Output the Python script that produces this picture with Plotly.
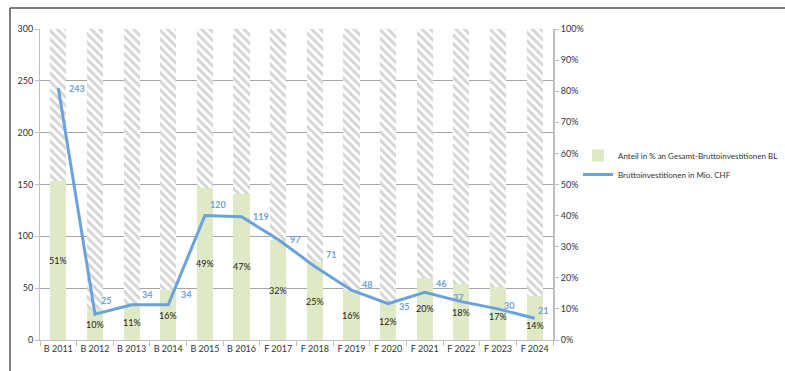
import plotly.graph_objects as go

categories = ["B 2011", "B 2012", "B 2013", "B 2014", "B 2015", "B 2016", "F 2017",
              "F 2018", "F 2019", "F 2020", "F 2021", "F 2022", "F 2023", "F 2024"]
share_pct = [51, 10, 11, 16, 49, 47, 32, 25, 16, 12, 20, 18, 17, 14]
investments = [243, 25, 34, 34, 120, 119, 97, 71, 48, 35, 46, 37, 30, 21]
remainder = [100 - s for s in share_pct]

share_name = "Anteil in % an Gesamt-Bruttoinvestitionen BL"
inv_name = "Bruttoinvestitionen in Mio. CHF"

# label offsets (pixels) for the line value labels: (dx right, dy up)
label_shift = [(9, 0), (4, 14), (8, 10), (11, 10), (3, 11), (9, 0), (10, 0),
               (9, 12), (9, 6), (9, -3), (9, 9), (-10, 4), (4, 3), (1, 8)]
# vertical offsets (pixels, up) of the percentage labels from the bar middle
pct_shift = [0, 0, 0, 0, 0, 0, 0, 0, 0, 0, 0, 0, -3, -7]

GREEN = "#dfe9c5"
HATCH = "#ababab"
BLUE = "#6aa2dc"
TXT = "#333333"
FONT = "Lato, Liberation Sans, sans-serif"

L, R, T, B = 40, 553, 29, 340
W, H = 785, 371


def px(xp):
    return (xp - L) / (R - L)


def py(yp):
    return (B - yp) / (B - T)


fig = go.Figure()
fig.add_trace(go.Bar(
    x=categories, y=share_pct, name=share_name, yaxis="y",
    marker=dict(color=GREEN, line=dict(width=0)), width=0.44,
    hoverinfo="skip"))
fig.add_trace(go.Bar(
    x=categories, y=remainder, name="rest", yaxis="y", showlegend=False,
    marker=dict(color="white", line=dict(width=0),
                pattern=dict(shape="\\", fgcolor=HATCH, bgcolor="white",
                             size=6, solidity=0.5)),
    width=0.44, hoverinfo="skip"))
fig.add_trace(go.Scatter(
    x=categories, y=investments, name=inv_name, yaxis="y2",
    mode="lines", line=dict(color=BLUE, width=3), cliponaxis=False))

annotations = []
for cat, pct, dy in zip(categories, share_pct, pct_shift):
    annotations.append(dict(
        x=cat, y=pct / 2, xref="x", yref="y", text=f"{pct}%", showarrow=False,
        xanchor="center", yanchor="middle", yshift=dy,
        font=dict(color="#222222", size=9, family=FONT)))
for cat, val, (dx, dy) in zip(categories, investments, label_shift):
    annotations.append(dict(
        x=cat, y=val, xref="x", yref="y2", text=str(val), showarrow=False,
        xanchor="left", yanchor="middle", xshift=dx, yshift=dy,
        font=dict(color=BLUE, size=9, family=FONT, weight="bold")))

fig.update_layout(
    width=W, height=H, barmode="stack",
    margin=dict(l=L, r=W - R, t=T, b=H - B, pad=0, autoexpand=False),
    paper_bgcolor="white", plot_bgcolor="white",
    font=dict(family=FONT, size=9, color=TXT),
    xaxis=dict(showline=True, linecolor="#bfbfbf", linewidth=1,
               ticks="outside", ticklen=5, tickcolor="#bfbfbf",
               tickson="boundaries", showgrid=False, tickangle=0,
               tickfont=dict(size=9, color=TXT)),
    yaxis=dict(range=[0, 100], dtick=10, ticksuffix="%", side="right",
               showgrid=False, showline=True, linecolor="#bfbfbf",
               linewidth=2, ticks="outside", ticklen=4, tickcolor="#bfbfbf",
               zeroline=False, tickfont=dict(size=9, color=TXT)),
    yaxis2=dict(range=[0, 300], dtick=50, side="left", overlaying="y",
                showgrid=True, gridcolor="#a6a6a6", gridwidth=1,
                showline=True, linecolor="#bfbfbf", linewidth=1,
                ticks="outside", ticklen=4, tickcolor="#bfbfbf",
                zeroline=False, tickfont=dict(size=9, color=TXT)),
    legend=dict(x=px(578), y=py(141), xanchor="left", yanchor="top",
                font=dict(size=8, color=TXT, family=FONT), traceorder="normal",
                bgcolor="rgba(0,0,0,0)", itemwidth=30, tracegroupgap=0),
    showlegend=True,
    annotations=annotations,
    shapes=[
        dict(type="line", xref="paper", yref="paper",
             x0=px(10), x1=px(800), y0=py(8), y1=py(8),
             line=dict(color="#555555", width=1.5)),
        dict(type="line", xref="paper", yref="paper",
             x0=px(10), x1=px(10), y0=py(8), y1=py(400),
             line=dict(color="#555555", width=1.5)),
    ],
)

fig.write_html("out.html")
